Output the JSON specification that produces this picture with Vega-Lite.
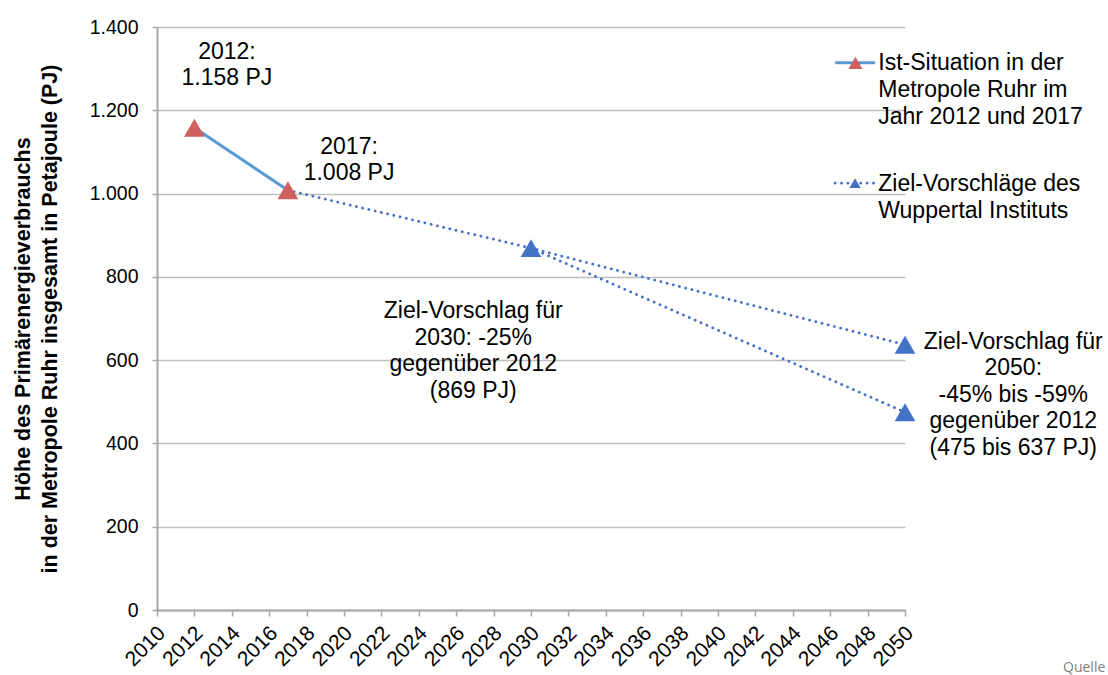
{
  "$schema": "https://vega.github.io/schema/vega-lite/v6.json",
  "width": 748,
  "height": 583,
  "autosize": {"type": "none"},
  "padding": {"left": 157, "top": 27, "right": 203, "bottom": 65},
  "background": "white",
  "config": {"view": {"stroke": null}, "font": "Liberation Sans"},
  "datasets": {
    "ist": [
      {"path": "main", "year": 2012, "value": 1158},
      {"path": "main", "year": 2017, "value": 1008},
      {"path": "key", "year": 2046.26, "value": 1314},
      {"path": "key", "year": 2048.4, "value": 1314}
    ],
    "ziel": [
      {"path": "a", "year": 2017, "value": 1008},
      {"path": "a", "year": 2030, "value": 869},
      {"path": "a", "year": 2050, "value": 637},
      {"path": "b", "year": 2030, "value": 869},
      {"path": "b", "year": 2050, "value": 475},
      {"path": "key", "year": 2046.26, "value": 1025},
      {"path": "key", "year": 2048.4, "value": 1025}
    ],
    "points": [
      {"series": "Ist", "year": 2012, "value": 1158},
      {"series": "Ist", "year": 2017, "value": 1008},
      {"series": "Ziel", "year": 2030, "value": 869},
      {"series": "Ziel", "year": 2050, "value": 637},
      {"series": "Ziel", "year": 2050, "value": 475}
    ],
    "keymarks": [
      {"series": "Ist", "year": 2047.35, "value": 1314},
      {"series": "Ziel", "year": 2047.33, "value": 1025}
    ],
    "keytext": [
      {"text": "Ist-Situation in der\nMetropole Ruhr im\nJahr 2012 und 2017", "year": 2048.57, "value": 1313},
      {"text": "Ziel-Vorschläge des\nWuppertal Instituts", "year": 2048.57, "value": 1023}
    ],
    "notes": [
      {"text": "2012:\n1.158 PJ", "year": 2013.74, "value": 1340},
      {"text": "2017:\n1.008 PJ", "year": 2020.27, "value": 1112},
      {"text": "Ziel-Vorschlag für\n2030: -25%\ngegenüber 2012\n(869 PJ)", "year": 2026.91, "value": 717},
      {"text": "Ziel-Vorschlag für\n2050:\n-45% bis -59%\ngegenüber 2012\n(475 bis 637 PJ)", "year": 2055.79, "value": 644}
    ],
    "source": [
      {"text": "Quelle", "year": 2058.45, "value": -139}
    ]
  },
  "encoding": {
    "x": {
      "field": "year",
      "type": "quantitative",
      "scale": {"domain": [2010, 2050], "nice": false, "zero": false},
      "axis": {
        "values": [2010, 2012, 2014, 2016, 2018, 2020, 2022, 2024, 2026, 2028, 2030, 2032, 2034, 2036, 2038, 2040, 2042, 2044, 2046, 2048, 2050],
        "format": "d",
        "labelAngle": -45,
        "labelFontSize": 21,
        "labelColor": "#000000",
        "labelPadding": 6,
        "labelOffset": -3,
        "labelFlush": false,
        "labelOverlap": false,
        "tickSize": 6,
        "tickColor": "#A6A6A6",
        "tickWidth": 1.5,
        "domainColor": "#A6A6A6",
        "domainWidth": 2,
        "grid": false,
        "title": null
      }
    },
    "y": {
      "field": "value",
      "type": "quantitative",
      "scale": {"domain": [0, 1400], "nice": false},
      "axis": {
        "values": [0, 200, 400, 600, 800, 1000, 1200, 1400],
        "labelExpr": "replace(format(datum.value, ','), ',', '.')",
        "labelFontSize": 19.5,
        "labelColor": "#000000",
        "labelPadding": 14,
        "tickSize": 5,
        "tickColor": "#A6A6A6",
        "tickWidth": 1.5,
        "domainColor": "#A6A6A6",
        "domainWidth": 2,
        "grid": true,
        "gridColor": "#BFBFBF",
        "gridWidth": 1.3,
        "title": ["Höhe des Primärenergieverbrauchs", "in der Metropole Ruhr insgesamt in Petajoule (PJ)"],
        "titleFontSize": 21.5,
        "titleFontWeight": "bold",
        "titleColor": "#000000",
        "titleLineHeight": 27,
        "titlePadding": 28
      }
    }
  },
  "layer": [
    {
      "data": {"name": "ist"},
      "mark": {"type": "line", "color": "#5B9BD5", "strokeWidth": 3},
      "encoding": {"detail": {"field": "path"}, "order": {"field": "year"}}
    },
    {
      "data": {"name": "ziel"},
      "mark": {"type": "line", "color": "#4472C4", "strokeWidth": 2.8, "strokeDash": [0.1, 6.3], "strokeCap": "round"},
      "encoding": {"detail": {"field": "path"}, "order": {"field": "year"}}
    },
    {
      "data": {"name": "points"},
      "mark": {"type": "point", "shape": "triangle-up", "filled": true, "opacity": 1, "size": 430},
      "encoding": {
        "color": {"field": "series", "type": "nominal", "scale": {"domain": ["Ist", "Ziel"], "range": ["#D0605E", "#4472C4"]}, "legend": null}
      }
    },
    {
      "data": {"name": "keymarks"},
      "mark": {"type": "point", "shape": "triangle-up", "filled": true, "opacity": 1},
      "encoding": {
        "color": {"field": "series", "type": "nominal", "legend": null},
        "size": {"field": "series", "type": "nominal", "scale": {"domain": ["Ist", "Ziel"], "range": [200, 130]}, "legend": null}
      }
    },
    {
      "data": {"name": "keytext"},
      "mark": {"type": "text", "align": "left", "baseline": "middle", "fontSize": 23, "lineHeight": 27, "lineBreak": "\n", "color": "#000000"},
      "encoding": {"text": {"field": "text"}}
    },
    {
      "data": {"name": "notes"},
      "mark": {"type": "text", "align": "center", "baseline": "middle", "fontSize": 23, "lineHeight": 26.5, "lineBreak": "\n", "color": "#000000"},
      "encoding": {"text": {"field": "text"}}
    },
    {
      "data": {"name": "source"},
      "mark": {"type": "text", "align": "left", "baseline": "middle", "fontSize": 14, "color": "#808080", "font": "Open Sans"},
      "encoding": {"text": {"field": "text"}}
    }
  ]
}
